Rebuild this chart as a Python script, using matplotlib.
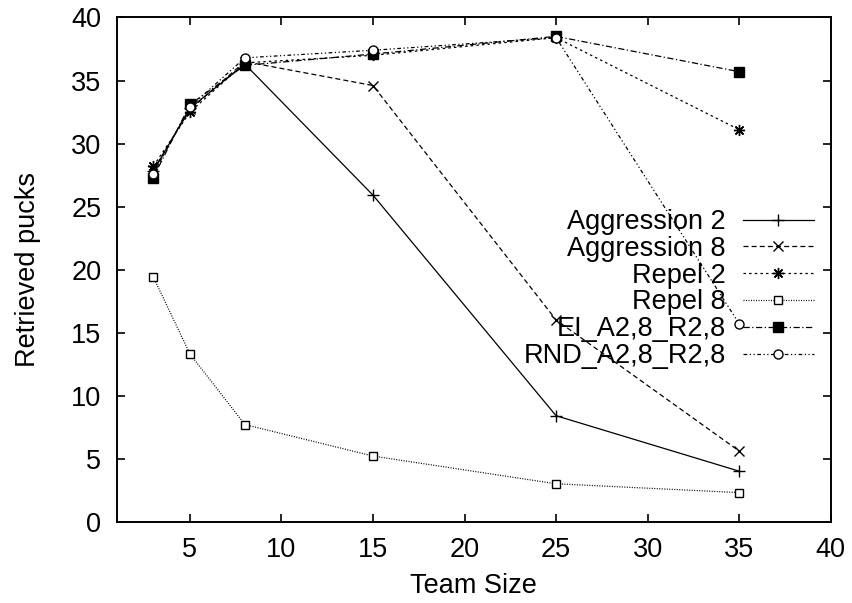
import matplotlib
matplotlib.use("Agg")
import matplotlib.pyplot as plt

plt.rcParams['font.family'] = ['Liberation Sans', 'DejaVu Sans']
plt.rcParams['font.size'] = 19.5

# team sizes used in the runs
team_size = [3, 5, 8, 15, 25, 35]

# mean number of retrieved pucks per strategy
aggression_2 = [27.8, 32.8, 36.3, 25.9, 8.4, 4.0]
aggression_8 = [27.9, 32.7, 36.5, 34.6, 16.0, 5.6]
repel_2 = [28.2, 32.5, 36.4, 37.0, 38.4, 31.1]
repel_8 = [19.4, 13.3, 7.7, 5.2, 3.0, 2.3]
ei_mix = [27.3, 33.1, 36.2, 37.1, 38.5, 35.7]
rnd_mix = [27.6, 32.9, 36.8, 37.4, 38.4, 15.7]

labels = ["Aggression 2", "Aggression 8", "Repel 2", "Repel 8",
          "EI_A2,8_R2,8", "RND_A2,8_R2,8"]

fig = plt.figure(figsize=(8.52, 6.03), dpi=100)
ax = fig.add_axes([0.137, 0.135, 0.838, 0.836])

lw = 0.9
ax.plot(team_size, aggression_2, color='black', lw=lw, ls='-',
        marker='+', ms=8, mew=1, label=labels[0])
ax.plot(team_size, aggression_8, color='black', lw=lw, ls=(0, (4, 2.5)),
        marker='x', ms=7, mew=1, label=labels[1])
ax.plot(team_size, repel_2, color='black', lw=lw, ls=(0, (2, 2.5)),
        marker=(8, 2, 0), ms=8, mew=1, label=labels[2])
ax.plot(team_size, repel_8, color='black', lw=lw, ls=(0, (0.8, 1.2)),
        marker='s', ms=6, mew=1, mfc='white', label=labels[3])
ax.plot(team_size, ei_mix, color='black', lw=lw, ls=(0, (5, 2, 1, 2)),
        marker='s', ms=6.5, mew=1, mfc='black', label=labels[4])
ax.plot(team_size, rnd_mix, color='black', lw=lw, ls=(0, (3, 2, 1, 2, 1, 2)),
        marker='o', ms=6.5, mew=1, mfc='white', label=labels[5])

ax.set_xlim(1, 40)
ax.set_ylim(0, 40)
ax.set_xticks([5, 10, 15, 20, 25, 30, 35, 40])
ax.set_yticks(range(0, 41, 5))
ax.tick_params(direction='in', length=6, width=1.2, top=True, right=True,
               pad=11)
for sp in ax.spines.values():
    sp.set_linewidth(1.4)

ax.set_xlabel("Team Size", labelpad=7)
ax.set_ylabel("Retrieved pucks", labelpad=22)

ax.legend(loc='upper right', bbox_to_anchor=(0.976, 0.62), frameon=False,
          markerfirst=False, handlelength=2.6, handletextpad=0.65,
          labelspacing=0.03, borderpad=0, borderaxespad=0)

fig.savefig("out.png", dpi=100)
